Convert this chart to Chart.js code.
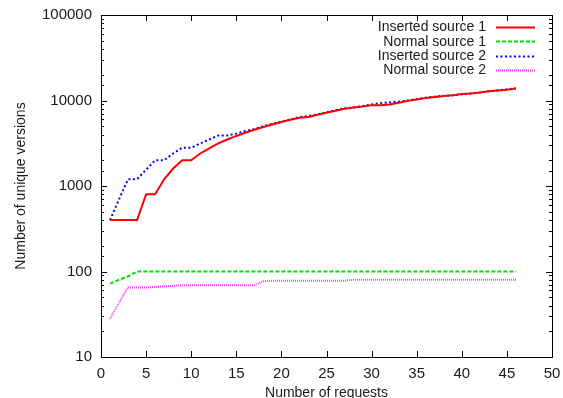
<!DOCTYPE html>
<html>
<head>
<meta charset="utf-8">
<script src="https://cdn.jsdelivr.net/npm/chart.js@4.4.1/dist/chart.umd.min.js"></script>
<style>
  html, body { margin: 0; padding: 0; background: #fff; }
  #wrap { width: 563px; height: 398px; }
</style>
</head>
<body>
<div id="wrap"><canvas id="grafico" width="563" height="398"></canvas></div>
<script>
// numero de requisicoes (eixo x)
var requisicoes = [1, 2, 3, 4, 5, 6, 7, 8, 9, 10, 11, 12, 13, 14, 15, 16, 17, 18, 19, 20, 21, 22, 23,
    24, 25, 26, 27, 28, 29, 30, 31, 32, 33, 34, 35, 36, 37, 38, 39, 40, 41, 42, 43, 44, 45, 46];

var inserida1 = [400, 400, 400, 400, 800, 800, 1200, 1600, 2000, 2000, 2400, 2750, 3150, 3500, 3850,
    4200, 4550, 4900, 5250, 5600, 5950, 6300, 6400, 6800, 7200, 7600, 8000, 8300, 8500, 8800, 8800,
    9000, 9400, 9900, 10300, 10700, 11000, 11300, 11500, 11900, 12100, 12400, 12800, 13100, 13400, 13800];

var normal1 = [72, 80, 88, 100, 100, 100, 100, 100, 100, 100, 100, 100, 100, 100, 100, 100, 100, 100,
    100, 100, 100, 100, 100, 100, 100, 100, 100, 100, 100, 100, 100, 100, 100, 100, 100, 100, 100, 100,
    100, 100, 100, 100, 100, 100, 100, 100];

var inserida2 = [400, 700, 1200, 1200, 1550, 2000, 2000, 2400, 2800, 2800, 3150, 3500, 3900, 3900, 4100,
    4400, 4650, 5000, 5350, 5650, 6000, 6400, 6600, 6900, 7300, 7700, 8100, 8300, 8600, 9000, 9300,
    9500, 9700, 10000, 10400, 10800, 11100, 11300, 11500, 11800, 12100, 12400, 12800, 13100, 13500, 13900];

var normal2 = [28, 43, 65, 65, 65, 66, 67, 68, 69, 69, 69, 69, 69, 69, 69, 69, 69, 77, 78, 78, 78, 78,
    78, 78, 78, 78, 78, 80, 80, 80, 80, 80, 80, 80, 80, 80, 80, 80, 80, 80, 80, 80, 80, 80, 80, 80];

var nomesSeries = ["Inserted source 1", "Normal source 1", "Inserted source 2", "Normal source 2"];
var tituloX = "Number of requests";
var tituloY = "Number of unique versions";

function MontarPontos(valores) {
    var pontos = [];
    var indice = 0;
    while (indice < valores.length) {
        pontos.push({ x: requisicoes[indice], y: valores[indice] });
        indice++;
    }
    return pontos;
}

var fonte = "'Liberation Sans', Arial, Helvetica, sans-serif";
Chart.defaults.color = "#1a1a1a";
Chart.defaults.font.family = fonte;
Chart.defaults.font.size = 14;

// moldura e marcas internas, estilo gnuplot
var moldura = {
    id: "moldura",
    afterDraw: function (chart) {
        var ctx = chart.ctx;
        var area = chart.chartArea;
        var sx = chart.scales.x;
        var sy = chart.scales.y;
        ctx.save();
        ctx.strokeStyle = "#000";
        ctx.lineWidth = 1;
        ctx.beginPath();
        sx.ticks.forEach(function (t) {
            var px = Math.round(sx.getPixelForValue(t.value)) + 0.5;
            ctx.moveTo(px, area.bottom);
            ctx.lineTo(px, area.bottom - 6);
            ctx.moveTo(px, area.top);
            ctx.lineTo(px, area.top + 6);
        });
        sy.ticks.forEach(function (t) {
            var py = Math.round(sy.getPixelForValue(t.value)) + 0.5;
            var lg = Math.log10(t.value);
            var tam = Math.abs(lg - Math.round(lg)) < 1e-9 ? 6 : 3;
            ctx.moveTo(area.left, py);
            ctx.lineTo(area.left + tam, py);
            ctx.moveTo(area.right, py);
            ctx.lineTo(area.right - tam, py);
        });
        ctx.stroke();
        ctx.strokeRect(Math.round(area.left) + 0.5, Math.round(area.top) + 0.5,
            Math.round(area.right - area.left), Math.round(area.bottom - area.top));
        ctx.restore();
    }
};

// legenda com texto a direita e a amostra da linha depois
var legenda = {
    id: "legenda",
    afterDraw: function (chart) {
        var ctx = chart.ctx;
        ctx.save();
        ctx.font = "14px " + fonte;
        ctx.textAlign = "right";
        ctx.textBaseline = "middle";
        chart.data.datasets.forEach(function (ds, i) {
            var y = 27 + i * 14.3;
            ctx.fillStyle = "#1a1a1a";
            ctx.fillText(ds.label, 486, y + 0.5);
            ctx.beginPath();
            ctx.strokeStyle = ds.borderColor;
            ctx.lineWidth = ds.borderWidth;
            ctx.setLineDash(ds.borderDash || []);
            ctx.moveTo(496, Math.round(y) + 0.5);
            ctx.lineTo(535, Math.round(y) + 0.5);
            ctx.stroke();
        });
        ctx.restore();
    }
};

// tira o espaco extra que o Chart.js reserva para os rotulos
function ZerarPadding(scale) {
    scale.paddingTop = 0;
    scale.paddingBottom = 0;
    scale.paddingLeft = 0;
    scale.paddingRight = 0;
}

var ctx = document.getElementById("grafico").getContext("2d");

var grafico = new Chart(ctx, {
    type: "line",
    data: {
        datasets: [{
            label: nomesSeries[0],
            data: MontarPontos(inserida1),
            borderColor: "#ff0000",
            borderWidth: 2,
            borderDash: []
        }, {
            label: nomesSeries[1],
            data: MontarPontos(normal1),
            borderColor: "#00e000",
            borderWidth: 2,
            borderDash: [4, 2]
        }, {
            label: nomesSeries[2],
            data: MontarPontos(inserida2),
            borderColor: "#0000ff",
            borderWidth: 2,
            borderDash: [2, 2.5]
        }, {
            label: nomesSeries[3],
            data: MontarPontos(normal2),
            borderColor: "#ff33ff",
            borderWidth: 2,
            borderDash: [1, 1]
        }]
    },
    options: {
        responsive: false,
        animation: false,
        layout: { padding: { left: 0, top: 15, right: 11, bottom: 0 } },
        elements: {
            point: { radius: 0 },
            line: { tension: 0, fill: false }
        },
        plugins: {
            legend: { display: false },
            tooltip: { enabled: false }
        },
        scales: {
            x: {
                type: "linear",
                min: 0,
                max: 50,
                grid: { display: false, drawTicks: false },
                border: { display: false },
                ticks: { stepSize: 5, padding: 8, maxRotation: 0, font: { size: 15 } },
                title: {
                    display: true,
                    text: tituloX,
                    font: { size: 14, lineHeight: 1 },
                    padding: { top: 0, bottom: -2 }
                },
                afterFit: function (scale) { scale.height = 41; ZerarPadding(scale); }
            },
            y: {
                type: "logarithmic",
                min: 10,
                max: 100000,
                grid: { display: false, drawTicks: false },
                border: { display: false },
                ticks: {
                    padding: 9,
                    autoSkip: false,
                    font: { size: 15 },
                    callback: function (valor) {
                        var lg = Math.log10(valor);
                        return Math.abs(lg - Math.round(lg)) < 1e-9 ? String(valor) : "";
                    }
                },
                title: {
                    display: true,
                    text: tituloY,
                    font: { size: 14, lineHeight: 1 },
                    padding: { top: 14, bottom: 0 }
                },
                afterFit: function (scale) { scale.width = 101; ZerarPadding(scale); }
            }
        }
    },
    plugins: [moldura, legenda]
});
</script>
</body>
</html>
